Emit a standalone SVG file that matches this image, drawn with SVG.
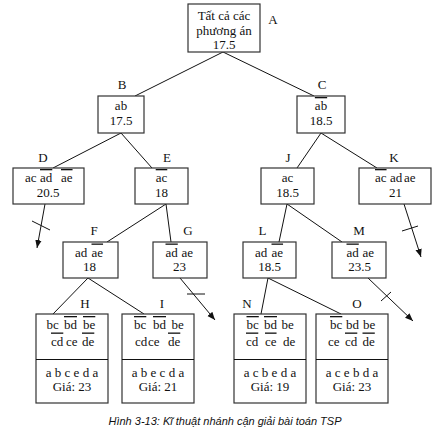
<svg xmlns="http://www.w3.org/2000/svg" width="440" height="433" viewBox="0 0 440 433" font-family="'Liberation Serif', 'DejaVu Serif', serif">
<style>
text{font-family:"Liberation Serif","DejaVu Serif",serif;font-size:13px;fill:#111}
.c{text-anchor:middle}
.ov{text-decoration:overline}
.box{fill:#fff;stroke:#333;stroke-width:1.2}
.ln{stroke:#111;stroke-width:1;fill:none}
.cap{font-family:"Liberation Sans",Arial,sans-serif;font-size:11px;font-style:italic;text-anchor:middle;fill:#111}
</style>
<defs>
<marker id="ah" markerUnits="userSpaceOnUse" markerWidth="10" markerHeight="8" refX="8" refY="4" orient="auto">
<path d="M0,0.8 L8,4 L0,7.2 Z" fill="#111"/>
</marker>
</defs>
<rect width="440" height="433" fill="#fff"/>
<g id="connectors">
<line class="ln" x1="223" y1="52" x2="135" y2="96"/>
<line class="ln" x1="223" y1="52" x2="314" y2="96"/>
<line class="ln" x1="121" y1="133" x2="53" y2="168"/>
<line class="ln" x1="121" y1="133" x2="152" y2="168"/>
<line class="ln" x1="321" y1="133" x2="297" y2="168"/>
<line class="ln" x1="321" y1="133" x2="377" y2="168"/>
<line class="ln" x1="166" y1="204" x2="107" y2="242"/>
<line class="ln" x1="166" y1="204" x2="171" y2="242"/>
<line class="ln" x1="287" y1="204" x2="279" y2="242"/>
<line class="ln" x1="287" y1="204" x2="342" y2="242"/>
<line class="ln" x1="88" y1="278" x2="53" y2="314"/>
<line class="ln" x1="88" y1="278" x2="144" y2="314"/>
<line class="ln" x1="268" y1="278" x2="261" y2="314"/>
<line class="ln" x1="268" y1="278" x2="341" y2="314"/>
<line class="ln" x1="45" y1="204" x2="37" y2="248" marker-end="url(#ah)"/>
<line class="ln" x1="32" y1="221" x2="50" y2="230"/>
<line class="ln" x1="404" y1="204" x2="421" y2="257" marker-end="url(#ah)"/>
<line class="ln" x1="402" y1="231" x2="418" y2="226"/>
<line class="ln" x1="180" y1="278" x2="215" y2="320" marker-end="url(#ah)"/>
<line class="ln" x1="187" y1="294" x2="205" y2="294"/>
<line class="ln" x1="368" y1="278" x2="413" y2="321" marker-end="url(#ah)"/>
<line class="ln" x1="381" y1="301" x2="391" y2="292"/>
</g>
<g id="A">
<rect class="box" x="188" y="4" width="72" height="48"/>
<text class="c" x="224" y="20">Tất cả các</text>
<text class="c" x="224" y="35">phương án</text>
<text class="c" x="224" y="49">17.5</text>
<text class="c" x="273" y="24">A</text>
</g>
<g id="B">
<rect class="box" x="98" y="96" width="46" height="37"/>
<text class="c" x="121" y="110">ab</text>
<text class="c" x="121" y="125">17.5</text>
<text class="c" x="122" y="89">B</text>
</g>
<g id="C">
<rect class="box" x="297" y="96" width="48" height="37"/>
<text class="c" x="321" y="110"><tspan class="ov">ab</tspan></text>
<text class="c" x="321" y="125">18.5</text>
<text class="c" x="322" y="89">C</text>
</g>
<g id="D">
<rect class="box" x="13" y="168" width="71" height="36"/>
<text y="182"><tspan x="25">ac</tspan><tspan x="40" class="ov">ad</tspan><tspan x="61" class="ov">ae</tspan></text>
<text class="c" x="48" y="196.5">20.5</text>
<text class="c" x="43" y="162">D</text>
</g>
<g id="E">
<rect class="box" x="135" y="168" width="53" height="36"/>
<text class="c" x="161.5" y="182"><tspan class="ov">ac</tspan></text>
<text class="c" x="161.5" y="196.5">18</text>
<text class="c" x="167" y="162">E</text>
</g>
<g id="J">
<rect class="box" x="261" y="168" width="53" height="36"/>
<text class="c" x="287.5" y="182">ac</text>
<text class="c" x="287.5" y="196.5">18.5</text>
<text class="c" x="288" y="162">J</text>
</g>
<g id="K">
<rect class="box" x="359" y="168" width="72" height="36"/>
<text y="182"><tspan x="375" class="ov">ac</tspan><tspan x="390">ad</tspan><tspan x="404">ae</tspan></text>
<text class="c" x="395.5" y="196.5">21</text>
<text class="c" x="394" y="162">K</text>
</g>
<g id="F">
<rect class="box" x="63" y="242" width="55" height="36"/>
<text y="256.5"><tspan x="75">ad</tspan><tspan x="91.5" class="ov">ae</tspan></text>
<text class="c" x="89.5" y="271">18</text>
<text class="c" x="94" y="235">F</text>
</g>
<g id="G">
<rect class="box" x="153" y="242" width="54" height="36"/>
<text y="256.5"><tspan x="165.5" class="ov">ad</tspan><tspan x="181.5">ae</tspan></text>
<text class="c" x="179.5" y="271">23</text>
<text class="c" x="188" y="235">G</text>
</g>
<g id="L">
<rect class="box" x="243" y="242" width="53" height="36"/>
<text y="256.5"><tspan x="255">ad</tspan><tspan x="271.5" class="ov">ae</tspan></text>
<text class="c" x="269.5" y="271">18.5</text>
<text class="c" x="262.5" y="235">L</text>
</g>
<g id="M">
<rect class="box" x="332" y="242" width="54" height="36"/>
<text y="256.5"><tspan x="346.5" class="ov">ad</tspan><tspan x="362.5">ae</tspan></text>
<text class="c" x="359.5" y="271">23.5</text>
<text class="c" x="359" y="235">M</text>
</g>
<g id="H">
<rect class="box" x="36" y="314" width="72" height="89"/>
<line class="ln" x1="36" y1="359.5" x2="108" y2="359.5" stroke="#333"/>
<text y="329"><tspan x="46.5">bc</tspan><tspan x="64" class="ov">bd</tspan><tspan x="83" class="ov">be</tspan></text>
<text y="345.5"><tspan x="51" class="ov">cd</tspan><tspan x="66">ce</tspan><tspan x="82" class="ov">de</tspan></text>
<text class="c" x="72" y="376.5">a b c e d a</text>
<text class="c" x="72" y="391">Giá: 23</text>
<text class="c" x="85" y="308">H</text>
</g>
<g id="I">
<rect class="box" x="122" y="314" width="72" height="89"/>
<line class="ln" x1="122" y1="359.5" x2="194" y2="359.5" stroke="#333"/>
<text y="329"><tspan x="134" class="ov">bc</tspan><tspan x="153" class="ov">bd</tspan><tspan x="171.5">be</tspan></text>
<text y="345.5"><tspan x="135">cd</tspan><tspan x="148">ce</tspan><tspan x="168" class="ov">de</tspan></text>
<text class="c" x="158" y="376.5">a b e c d a</text>
<text class="c" x="158" y="391">Giá: 21</text>
<text class="c" x="162" y="308">I</text>
</g>
<g id="N">
<rect class="box" x="234" y="314" width="72" height="89"/>
<line class="ln" x1="234" y1="359.5" x2="306" y2="359.5" stroke="#333"/>
<text y="329"><tspan x="246.5" class="ov">bc</tspan><tspan x="264" class="ov">bd</tspan><tspan x="281.5">be</tspan></text>
<text y="345.5"><tspan x="246" class="ov">cd</tspan><tspan x="265" class="ov">ce</tspan><tspan x="283">de</tspan></text>
<text class="c" x="270" y="376.5">a c b e d a</text>
<text class="c" x="270" y="391">Giá: 19</text>
<text class="c" x="247" y="308">N</text>
</g>
<g id="O">
<rect class="box" x="316" y="314" width="72" height="89"/>
<line class="ln" x1="316" y1="359.5" x2="388" y2="359.5" stroke="#333"/>
<text y="329"><tspan x="330" class="ov">bc</tspan><tspan x="346">bd</tspan><tspan x="363">be</tspan></text>
<text y="345.5"><tspan x="328">ce</tspan><tspan x="345" class="ov">cd</tspan><tspan x="362.5" class="ov">de</tspan></text>
<text class="c" x="352" y="376.5">a c e b d a</text>
<text class="c" x="352" y="391">Giá: 23</text>
<text class="c" x="357" y="308">O</text>
</g>
<text class="cap" x="225" y="425">Hình 3-13: Kĩ thuật nhánh cận giải bài toán TSP</text>
</svg>
